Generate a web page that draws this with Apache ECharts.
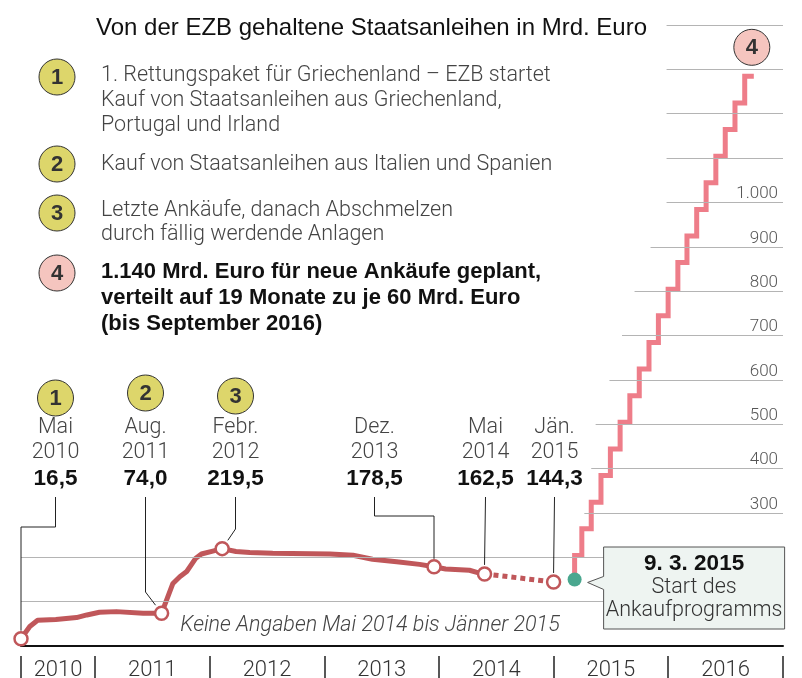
<!DOCTYPE html>
<html>
<head>
<meta charset="utf-8">
<script src="https://cdn.jsdelivr.net/npm/echarts@6/dist/echarts.min.js"></script>
<style>
  html, body { margin: 0; padding: 0; background: #fff; }
  #chart { width: 802px; height: 678px; }
</style>
</head>
<body>
<div id="chart"></div>
<script>
// Von der EZB gehaltene Staatsanleihen in Mrd. Euro
const histDates = ['2010-05-10', '2010-06-07', '2010-07-02', '2010-08-29', '2010-11-03', '2010-12-06',
  '2011-01-15', '2011-03-10', '2011-06-03', '2011-08-01', '2011-08-15', '2011-09-06', '2011-09-28',
  '2011-10-20', '2011-11-18', '2011-12-06', '2012-01-11', '2012-02-10', '2012-03-25', '2012-05-08',
  '2012-07-20', '2013-01-19', '2013-04-02', '2013-06-03', '2013-08-19', '2013-10-31', '2013-12-16',
  '2014-01-22', '2014-04-08', '2014-05-07', '2014-05-26']
const histValues = [16.5, 44, 58, 60, 64, 70,
  76, 77.5, 74, 74.0, 100, 141, 156,
  168, 198, 207.5, 214, 219.5, 213, 211,
  209, 207.5, 204.5, 195.5, 190, 184, 178.5,
  173.7, 170.7, 165, 162.5]

// keine Angaben Mai 2014 bis Jänner 2015
const gapDates = ['2014-05-26', '2015-01-01']
const gapValues = [162.5, 144.3]

const eventDates = ['2010-05-10', '2011-08-01', '2012-02-10', '2013-12-16', '2014-05-26', '2015-01-01']
const eventValues = [16.5, 74.0, 219.5, 178.5, 162.5, 144.3]
const eventMonths = ['Mai', 'Aug.', 'Febr.', 'Dez.', 'Mai', 'Jän.']
const eventYears = ['2010', '2011', '2012', '2013', '2014', '2015']
const eventBadges = ['1', '2', '3', '', '', '']

// Ankaufprogramm ab 9. 3. 2015, 60 Mrd. pro Monat
const planDates = ['2015-03-09', '2015-04-01', '2015-05-01', '2015-06-01', '2015-07-01', '2015-08-01',
  '2015-09-01', '2015-10-01', '2015-11-01', '2015-12-01', '2016-01-01', '2016-02-01', '2016-03-01',
  '2016-04-01', '2016-05-01', '2016-06-01', '2016-07-01', '2016-08-01', '2016-09-01', '2016-09-30']
const planValues = [150, 204.3, 264.3, 324.3, 384.3, 444.3,
  504.3, 564.3, 624.3, 684.3, 744.3, 804.3, 864.3,
  924.3, 984.3, 1044.3, 1104.3, 1164.3, 1224.3, 1284.3]
const startDate = '2015-03-09'
const startValue = 150

const yearTicks = ['2010-05-10', '2011-01-01', '2012-01-01', '2013-01-01', '2014-01-01',
  '2015-01-01', '2016-01-01', '2017-01-01']
const yLabelValues = [300, 400, 500, 600, 700, 800, 900, 1000]
const gridLevels = [100, 200, 300, 400, 500, 600, 700, 800, 900, 1000, 1100, 1200, 1300, 1400]
const gridFrom = ['2010-05-10', '2010-05-10', '2015-04-09', '2015-05-01', '2015-05-15', '2015-06-28',
  '2015-08-07', '2015-09-16', '2015-11-06', '2015-12-27', '2015-12-27', '2015-12-27', '2015-12-27', '2015-12-27']

const noteBadges = ['1', '2', '3', '4']
const noteLines = [
  ['1. Rettungspaket für Griechenland – EZB startet', 'Kauf von Staatsanleihen aus Griechenland,', 'Portugal und Irland'],
  ['Kauf von Staatsanleihen aus Italien und Spanien'],
  ['Letzte Ankäufe, danach Abschmelzen', 'durch fällig werdende Anlagen'],
  ['1.140 Mrd. Euro für neue Ankäufe geplant,', 'verteilt auf 19 Monate zu je 60 Mrd. Euro', '(bis September 2016)']
]

const ts = d => +new Date(d + 'T00:00:00Z')
const deNum = v => v.toFixed(1).replace('.', ',')
const deInt = v => String(v).replace(/\B(?=(\d{3})+(?!\d))/g, '.')

const HIST = '#c0575a'
const PLAN = '#ee7d89'
const LIGHT = '300 21.5px Roboto, "Liberation Sans", sans-serif'
const BOLD = 'bold 22px "Liberation Sans", Arial, sans-serif'
const BOLD_NUM = 'bold 22.5px "Liberation Sans", Arial, sans-serif'

const xMin = ts(yearTicks[0])
const xMax = ts(yearTicks[yearTicks.length - 1])
const yearMids = yearTicks.slice(0, -1).map((d, i) => (ts(d) + ts(yearTicks[i + 1])) / 2)

let chart = echarts.init(document.getElementById('chart'))

chart.setOption({
  animation: false,
  grid: { left: 21, right: 19, top: 25, bottom: 32, containLabel: false, outerBoundsMode: 'none' },
  xAxis: [{
    type: 'value',
    min: xMin,
    max: xMax,
    axisLine: { lineStyle: { color: '#111', width: 2 } },
    axisTick: { show: false },
    axisLabel: { show: false },
    splitLine: { show: false }
  }, {
    type: 'value',
    position: 'bottom',
    offset: 10,
    min: xMin,
    max: xMax,
    axisLine: { show: false },
    axisTick: { show: true, length: 22, customValues: yearTicks.map(ts), lineStyle: { color: '#222', width: 1.5 } },
    axisLabel: {
      customValues: yearMids,
      margin: 3,
      color: '#333',
      fontSize: 22,
      fontFamily: 'Roboto, "Liberation Sans", sans-serif',
      fontWeight: 300,
      formatter: v => String(new Date(v).getUTCFullYear())
    },
    splitLine: { show: false }
  }],
  yAxis: {
    type: 'value',
    position: 'right',
    min: 0,
    max: 1400,
    interval: 100,
    axisLine: { show: false },
    axisTick: { show: false },
    splitLine: { show: false },
    axisLabel: {
      inside: true,
      margin: 5,
      verticalAlign: 'bottom',
      color: '#555',
      fontSize: 17,
      fontFamily: 'Roboto, "Liberation Sans", sans-serif',
      fontWeight: 300,
      formatter: v => yLabelValues.indexOf(v) >= 0 ? deInt(v) : ''
    }
  },
  series: [{
    // gridlines
    type: 'line',
    z: 1,
    silent: true,
    symbol: 'none',
    data: [[xMin, 0]],
    markLine: {
      silent: true,
      symbol: 'none',
      label: { show: false },
      lineStyle: { color: '#b4b4b4', width: 1, type: 'solid' },
      data: gridLevels.map((lv, i) => [
        { coord: [ts(gridFrom[i]), lv] },
        { coord: [xMax, lv] }
      ])
    }
  }, {
    type: 'line',
    z: 3,
    clip: false,
    symbol: 'none',
    data: histDates.map((d, i) => [ts(d), histValues[i]]),
    lineStyle: { color: HIST, width: 5, cap: 'round', join: 'round' }
  }, {
    type: 'line',
    z: 3,
    clip: false,
    symbol: 'none',
    data: gapDates.map((d, i) => [ts(d), gapValues[i]]),
    lineStyle: { color: HIST, width: 5, type: [5, 4] }
  }, {
    type: 'line',
    z: 3,
    clip: false,
    symbol: 'none',
    step: 'start',
    data: planDates.map((d, i) => [ts(d), planValues[i]]),
    lineStyle: { color: PLAN, width: 5, join: 'miter' }
  }, {
    type: 'scatter',
    z: 4,
    clip: false,
    symbol: 'circle',
    symbolSize: 13,
    data: eventDates.map((d, i) => [ts(d), eventValues[i]]),
    itemStyle: { color: '#fff', borderColor: HIST, borderWidth: 2.5, opacity: 1 }
  }, {
    type: 'scatter',
    z: 4,
    clip: false,
    symbol: 'circle',
    symbolSize: 14,
    data: [[ts(startDate), startValue]],
    itemStyle: { color: '#4aa78f', opacity: 1 }
  }]
})

// annotations, placed from the axis positions
const toPx = (d, v) => chart.convertToPixel({ xAxisIndex: 0, yAxisIndex: 0 }, [ts(d), v])

const eventLayout = [
  { dx: 34, kind: 'elbow', bend: 527, badgeY: 398 },
  { dx: -17, kind: 'diag', bend: 592, badgeY: 393 },
  { dx: 13, kind: 'diag', bend: 529, badgeY: 396 },
  { dx: -60, kind: 'elbow', bend: 516 },
  { dx: 0, kind: 'straight' },
  { dx: 0, kind: 'straight' }
]

const g = []
const txt = (text, x, y, font, fill, align) => g.push({
  type: 'text', z: 100,
  style: { text, x, y, font, fill, textAlign: align || 'left', textVerticalAlign: 'middle' }
})
const badge = (label, x, y, fill) => {
  g.push({ type: 'circle', z: 100, shape: { cx: x, cy: y, r: 18 }, style: { fill, stroke: '#333', lineWidth: 1 } })
  txt(label, x, y + 1, 'bold 22px "Liberation Sans", Arial, sans-serif', '#333', 'center')
}

txt('Von der EZB gehaltene Staatsanleihen in Mrd. Euro', 96, 28, '24px "Liberation Sans", Arial, sans-serif', '#111')

const noteY = [[76, 101, 126], [165], [211, 235], [272, 298, 324]]
const badgeYs = [77, 164, 213, 273]
noteBadges.forEach((b, i) => {
  badge(b, 57, badgeYs[i], i === 3 ? '#f5c5bf' : '#ddd66b')
  noteLines[i].forEach((line, j) => txt(line, 101, noteY[i][j], i === 3 ? BOLD : LIGHT, i === 3 ? '#111' : '#444'))
})

// badge 4 at the end of the plan
const last = toPx(planDates[planDates.length - 1], planValues[planValues.length - 1])
badge('4', last[0] - 2, last[1] - 29, '#f5c5bf')

eventDates.forEach((d, i) => {
  const p = toPx(d, eventValues[i])
  const L = eventLayout[i]
  const lx = Math.round(p[0] + L.dx) + 0.5
  const top = 497
  let pts
  if (L.kind === 'elbow') {
    pts = [[lx, top], [lx, L.bend], [p[0], L.bend], [p[0], p[1] - 8]]
  } else if (L.kind === 'diag') {
    const vx = lx - p[0], vy = L.bend - p[1], n = Math.hypot(vx, vy)
    pts = [[lx, top], [lx, L.bend], [p[0] + vx / n * 10, p[1] + vy / n * 10]]
  } else {
    pts = [[lx, top], [p[0], p[1] - 9]]
  }
  g.push({ type: 'polyline', z: 100, shape: { points: pts }, style: { stroke: '#222', lineWidth: 1, fill: null } })
  if (eventBadges[i]) badge(eventBadges[i], lx, L.badgeY, '#ddd66b')
  txt(eventMonths[i], lx, 428, LIGHT, '#444', 'center')
  txt(eventYears[i], lx, 453, LIGHT, '#444', 'center')
  txt(deNum(eventValues[i]), lx, 479, BOLD_NUM, '#111', 'center')
})

// callout for the start of the programme
const s = toPx(startDate, startValue)
const bx = s[0] + 29, by = 547, bw = 181, bh = 82
g.push({
  type: 'polygon', z: 100,
  shape: { points: [[bx, by], [bx + bw, by], [bx + bw, by + bh], [bx, by + bh], [bx, s[1] + 10], [s[0] + 13, s[1] + 3], [bx, s[1] - 3]] },
  style: { fill: '#eef4f1', stroke: '#555', lineWidth: 1 }
})
txt('9. 3. 2015', bx + bw / 2, 564, BOLD_NUM, '#111', 'center')
txt('Start des', bx + bw / 2, 588, LIGHT, '#333', 'center')
txt('Ankaufprogramms', bx + bw / 2, 611, LIGHT, '#333', 'center')

txt('Keine Angaben Mai 2014 bis Jänner 2015', 370, 626, 'italic 300 21.5px Roboto, "Liberation Sans", sans-serif', '#444', 'center')

chart.setOption({ graphic: { elements: g } })
</script>
</body>
</html>
